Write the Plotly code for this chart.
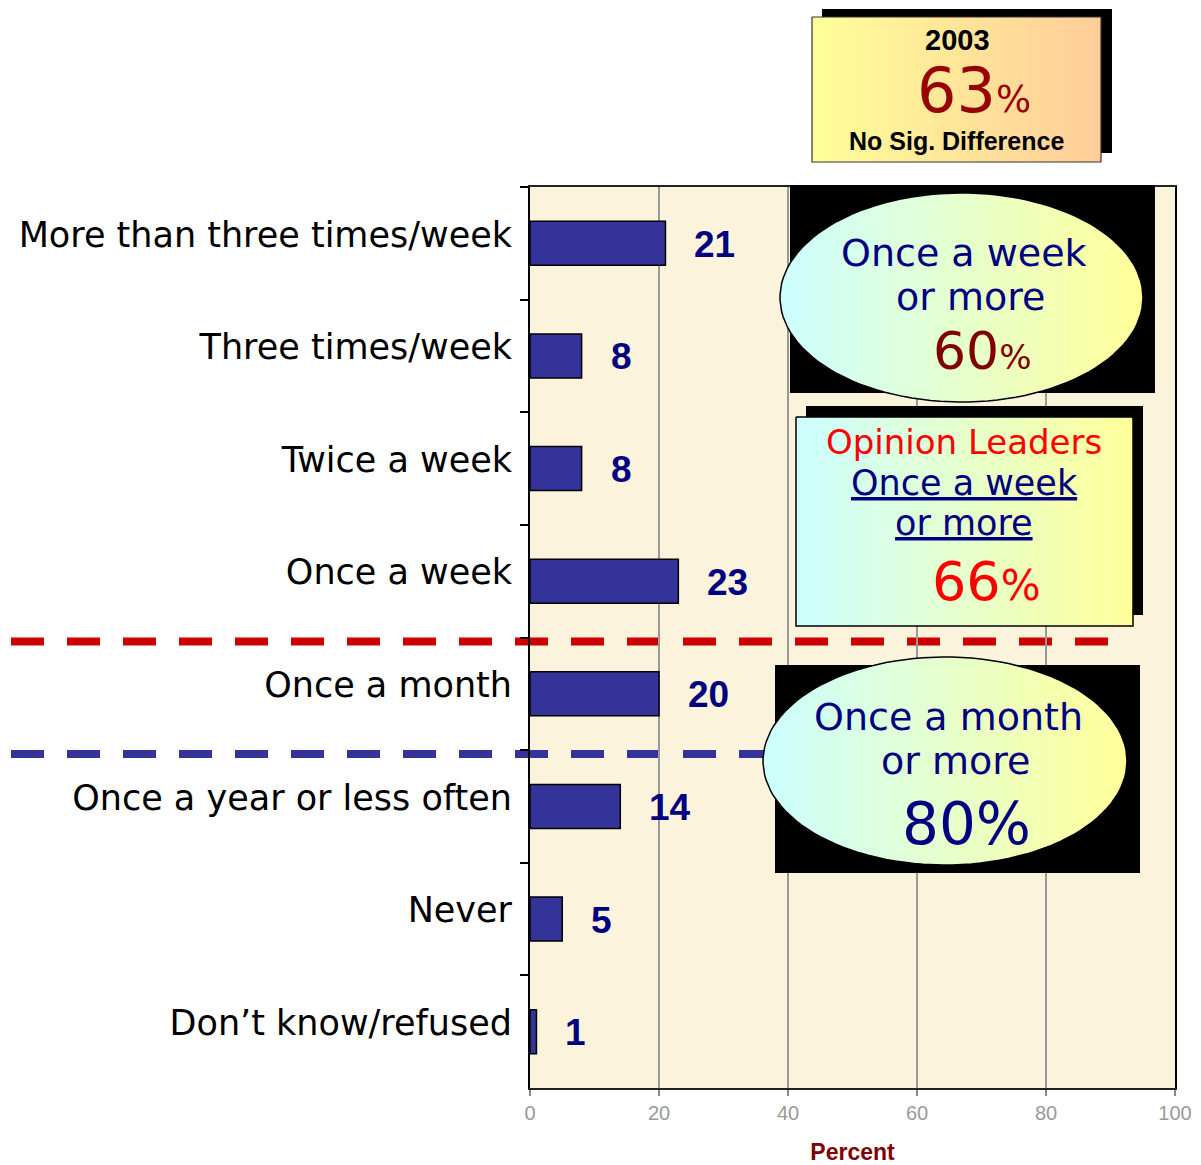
import numpy as np
import plotly.graph_objects as go

# ---------------- data ----------------
categories = [
    "More than three times/week",
    "Three times/week",
    "Twice a week",
    "Once a week",
    "Once a month",
    "Once a year or less often",
    "Never",
    "Don\u2019t know/refused",
]
values = [21, 8, 8, 23, 20, 14, 5, 1]
x_ticks = [0, 20, 40, 60, 80, 100]

W, H = 1201, 1165
PX0, PX1 = 530, 1175   # plot area in pixels
PY0, PY1 = 187, 1088

fig = go.Figure()

# bars
fig.add_trace(go.Bar(
    x=values, y=categories, orientation="h",
    marker=dict(color="#333399", line=dict(color="#000000", width=1.5)),
    hoverinfo="skip", showlegend=False,
    xaxis="x", yaxis="y",
))

# value labels
annotations = []
for c, v in zip(categories, values):
    annotations.append(dict(
        x=v, y=c, xref="x", yref="y", text=f"<b>{v}</b>", showarrow=False,
        xanchor="left", yanchor="middle", xshift=27, yshift=-1,
        font=dict(family="Arial, Liberation Sans", size=37, color="#000080"),
    ))

# ---------------- overlay boxes (pixel subplot) ----------------
def rect(x0, y0, x1, y1):
    return [x0, x1, x1, x0, x0], [y0, y0, y1, y1, y0]

def ellipse(cx, cy, rx, ry, n=120):
    t = np.linspace(0, 2 * np.pi, n)
    return list(cx + rx * np.cos(t)), list(cy + ry * np.sin(t))

def solid(xs, ys, color):
    fig.add_trace(go.Scatter(x=xs, y=ys, mode="lines", fill="toself",
                             fillcolor=color, line=dict(width=0, color=color),
                             hoverinfo="skip", showlegend=False,
                             xaxis="x2", yaxis="y2"))

def grad(xs, ys, c0, c1, lw=1.5, lc="#000000"):
    fig.add_trace(go.Scatter(x=xs, y=ys, mode="lines", fill="toself",
                             fillgradient=dict(type="horizontal",
                                               colorscale=[[0, c0], [1, c1]]),
                             line=dict(width=lw, color=lc),
                             hoverinfo="skip", showlegend=False,
                             xaxis="x2", yaxis="y2"))

# top 2003 box
solid(*rect(822, 9, 1112, 153), "#000000")
grad(*rect(812, 17, 1101, 162), "#FFFF99", "#FFCC99", lw=1.2, lc="#333333")

# once a week ellipse
solid(*rect(790, 185, 1155, 393), "#000000")
grad(*ellipse(961.5, 297.5, 181.5, 104.5), "#CCFFFF", "#FFFF99")

# opinion leaders box
solid(*rect(806, 406, 1143, 615), "#000000")
grad(*rect(796, 417, 1133, 626), "#CCFFFF", "#FFFF99", lw=1.5)

# once a month ellipse
solid(*rect(775, 665, 1140, 873), "#000000")
grad(*ellipse(945, 761, 182, 104), "#CCFFFF", "#FFFF99")

def txt(x, y, text, size, color, family="DejaVu Sans", bold=False):
    annotations.append(dict(
        x=x, y=y, xref="x2", yref="y2", text=text, showarrow=False,
        xanchor="center", yanchor="middle", borderpad=0,
        font=dict(family=family, size=size, color=color,
                  weight="bold" if bold else "normal"),
    ))

txt(957, 40, "2003", 29, "#000000", family="Arial, Liberation Sans", bold=True)
txt(974, 90, "63<span style='font-size:37px'>%</span>", 62, "#990000")
txt(956, 141, "No Sig. Difference", 25, "#000000", family="Arial, Liberation Sans", bold=True)

txt(964, 253, "Once a week", 38, "#000080")
txt(970, 297, "or more", 38, "#000080")
txt(982, 351, "60<span style='font-size:34px'>%</span>", 52, "#800000")

txt(964, 442, "Opinion Leaders", 34, "#FF0000")
txt(964, 482.5, "<span style='text-decoration:underline'>Once a week</span>", 35, "#000080")
txt(964, 523, "<span style='text-decoration:underline'>or more</span>", 35, "#000080")
txt(986, 581, "66<span style='font-size:42px'>%</span>", 54, "#FF0000")

txt(948, 717, "Once a month", 38, "#000080")
txt(955, 761, "or more", 38, "#000080")
txt(966, 824, "80%", 58, "#000080")

# ---------------- shapes: background + dashed separators ----------------
shapes = [
    dict(type="rect", xref="paper", yref="paper",
         x0=PX0 / W, x1=PX1 / W, y0=1 - PY1 / H, y1=1 - PY0 / H,
         fillcolor="#FCF3DC", line=dict(width=0), layer="below"),
    dict(type="line", xref="paper", yref="y", x0=11 / W, x1=1110 / W,
         y0=3.535, y1=3.535, line=dict(color="#CC0000", width=8, dash="33px,23px"),
         layer="below"),
    dict(type="line", xref="paper", yref="y", x0=11 / W, x1=800 / W,
         y0=4.535, y1=4.535, line=dict(color="#333399", width=8, dash="33px,23px"),
         layer="below"),
]

fig.update_layout(
    width=W, height=H,
    margin=dict(l=0, r=0, t=0, b=0, autoexpand=False),
    paper_bgcolor="#FFFFFF",
    plot_bgcolor="rgba(0,0,0,0)",
    bargap=0.61,
    shapes=shapes,
    annotations=annotations,
    xaxis=dict(
        domain=[PX0 / W, PX1 / W], range=[0, 100], tickvals=x_ticks,
        showgrid=True, gridcolor="#999999", gridwidth=1.5,
        ticks="outside", ticklen=6, tickcolor="#888888", tickwidth=1.5,
        tickfont=dict(family="Arial, Liberation Sans", size=20, color="#999999"),
        showline=True, linecolor="#222222", linewidth=2, mirror=True,
        zeroline=False, fixedrange=True, anchor="y", automargin=False,
        title=dict(text="<b>Percent</b>", standoff=21,
                   font=dict(family="Arial, Liberation Sans", size=23, color="#800000")),
    ),
    yaxis=dict(
        domain=[1 - PY1 / H, 1 - PY0 / H], autorange="reversed",
        type="category", categoryorder="array", categoryarray=categories,
        tickson="boundaries", ticks="outside", ticklen=8, tickcolor="#000000", tickwidth=1.5,
        tickfont=dict(family="DejaVu Sans", size=35, color="#000000"),
        ticklabelstandoff=9, ticklabelshift=9,
        showline=True, linecolor="#000000", linewidth=2, mirror=True,
        showgrid=False, zeroline=False, fixedrange=True, anchor="x", automargin=False,
    ),
    xaxis2=dict(domain=[0, 1], range=[0, W], visible=False, fixedrange=True,
                anchor="y2", automargin=False),
    yaxis2=dict(domain=[0, 1], range=[H, 0], visible=False, fixedrange=True,
                anchor="x2", automargin=False),
)

fig.write_html(
    "out.html",
    config={"displayModeBar": False},
    post_script=("var gd=document.getElementById('{plot_id}');"
                 "gd.style.position='fixed';gd.style.left='0px';gd.style.top='0px';"
                 "document.body.style.margin='0';"
                 "document.body.style.overflow='hidden';"
                 "document.documentElement.style.overflow='hidden';"),
)
